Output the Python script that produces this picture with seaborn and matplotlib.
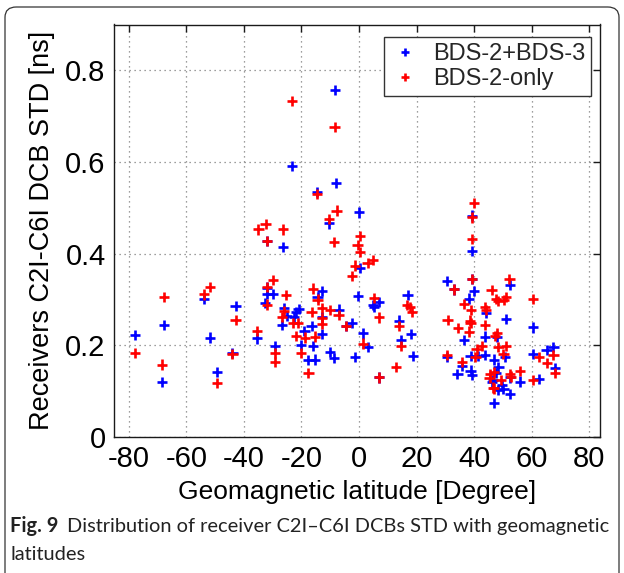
import numpy as np
import pandas as pd
import seaborn as sns
import matplotlib
matplotlib.use("Agg")
import matplotlib.pyplot as plt
from matplotlib.patches import FancyBboxPatch
from matplotlib import font_manager

# ---------------- data ----------------
series_names = ["BDS-2+BDS-3", "BDS-2-only"]

blue_lat = [-77.9, -67.7, -68.6, -53.8, -51.8, -49.5, -42.9, -44.0, -32.1, -26.4,
            -23.3, -10.4, -8.3, -8.0, -14.5, 0.0, -31.9, -31.9, -30.0, -32.6,
            -35.4, -29.2, -26.1, -25.1, -26.7, -22.0, -21.0, -22.5, -19.0, -20.1,
            -17.6, -15.3, -12.9, -14.4, -12.9, -16.5, -12.9, -15.9, -7.1, -4.5,
            -2.4, -10.1, -8.7, -1.4, -0.3, 0.4, 7.0, 4.8, 5.3, 1.4,
            3.0, 7.0, 16.9, 13.9, 18.0, 14.6, 18.7, 39.2, 39.2, 30.7,
            39.2, 33.0, 40.0, 38.3, 36.6, 30.7, 35.7, 34.2, 38.8, 38.8,
            39.2, 41.5, 43.8, 44.1, 43.8, 52.4, 51.1, 48.1, 47.0, 50.8,
            48.5, 46.3, 47.7, 49.7, 48.5, 50.2, 52.5, 47.0, 52.5, 56.0,
            60.4, 60.4, 62.7, 65.2, 67.6, 68.2, 46.5]
blue_std = [0.223, 0.244, 0.120, 0.302, 0.217, 0.142, 0.286, 0.184, 0.427, 0.415,
            0.592, 0.466, 0.757, 0.554, 0.534, 0.490, 0.326, 0.313, 0.312, 0.292,
            0.215, 0.198, 0.281, 0.264, 0.244, 0.273, 0.279, 0.262, 0.232, 0.201,
            0.168, 0.169, 0.319, 0.306, 0.262, 0.242, 0.224, 0.198, 0.278, 0.242,
            0.248, 0.185, 0.172, 0.174, 0.308, 0.369, 0.295, 0.288, 0.284, 0.226,
            0.197, 0.130, 0.310, 0.254, 0.225, 0.212, 0.177, 0.483, 0.406, 0.341,
            0.344, 0.322, 0.319, 0.302, 0.212, 0.174, 0.156, 0.137, 0.177, 0.145,
            0.135, 0.177, 0.179, 0.271, 0.219, 0.331, 0.258, 0.219, 0.169, 0.175,
            0.153, 0.121, 0.139, 0.113, 0.103, 0.104, 0.094, 0.074, 0.130, 0.121,
            0.239, 0.181, 0.127, 0.190, 0.197, 0.150, 0.124]

red_lat = [-77.9, -67.7, -68.6, -53.8, -51.8, -49.5, -42.9, -44.0, -35.0, -32.5,
           -32.1, -26.4, -23.2, -8.5, -14.5, -10.5, -7.8, -8.6, -30.0, -31.9,
           -25.4, -31.9, -35.4, -29.2, -29.2, -26.1, -26.8, -22.8, -21.1, -22.0,
           -18.8, -20.2, -17.6, -16.1, -14.4, -16.5, -12.9, -12.9, -12.9, -15.4,
           -10.1, -7.1, -4.5, 0.4, -0.5, 0.4, 4.8, 3.0, -1.4, -2.5,
           5.2, 7.0, 1.4, 12.9, 7.0, 16.6, 17.7, 18.5, 13.9, 14.6,
           40.0, 39.2, 39.2, 39.2, 33.0, 36.6, 39.0, 30.8, 34.3, 38.6,
           38.8, 38.3, 30.7, 35.9, 40.5, 40.9, 42.8, 43.8, 43.8, 44.1,
           46.1, 47.7, 48.5, 50.4, 51.1, 52.3, 47.3, 47.9, 48.5, 51.1,
           50.2, 45.6, 45.4, 47.0, 49.3, 47.0, 52.5, 52.8, 56.0, 60.4,
           62.7, 60.4, 65.3, 67.6, 68.2, 46.7]
red_std = [0.184, 0.306, 0.158, 0.311, 0.328, 0.118, 0.255, 0.181, 0.453, 0.465,
           0.427, 0.453, 0.733, 0.676, 0.530, 0.475, 0.494, 0.425, 0.342, 0.328,
           0.310, 0.289, 0.232, 0.184, 0.164, 0.275, 0.262, 0.248, 0.249, 0.220,
           0.217, 0.184, 0.140, 0.324, 0.300, 0.273, 0.282, 0.260, 0.246, 0.219,
           0.277, 0.266, 0.242, 0.438, 0.419, 0.404, 0.386, 0.379, 0.374, 0.351,
           0.304, 0.261, 0.204, 0.153, 0.130, 0.288, 0.283, 0.273, 0.242, 0.198,
           0.511, 0.479, 0.432, 0.344, 0.322, 0.290, 0.277, 0.255, 0.238, 0.254,
           0.249, 0.230, 0.179, 0.164, 0.174, 0.191, 0.198, 0.244, 0.284, 0.277,
           0.321, 0.301, 0.297, 0.299, 0.306, 0.344, 0.220, 0.227, 0.197, 0.199,
           0.181, 0.137, 0.128, 0.142, 0.124, 0.106, 0.137, 0.132, 0.144, 0.301,
           0.174, 0.124, 0.161, 0.179, 0.139, 0.108]

x_ticks = [-80, -60, -40, -20, 0, 20, 40, 60, 80]
y_ticks = [0, 0.2, 0.4, 0.6, 0.8]
y_tick_labels = ["0", "0.2", "0.4", "0.6", "0.8"]

x_label = "Geomagnetic latitude [Degree]"
y_label = "Receivers C2I-C6I DCB STD [ns]"
caption_bold = "Fig. 9"
caption_line1 = "Distribution of receiver C2I\u2013C6I DCBs STD with geomagnetic"
caption_line2 = "latitudes"

# ---------------- style ----------------
sns.set_theme(style="white")
plt.rcParams["font.family"] = ["Liberation Sans", "DejaVu Sans"]

W, H = 624, 573
fig = plt.figure(figsize=(W / 100, H / 100), dpi=100)
fig.patch.set_facecolor("white")

ax_l, ax_r, ax_t, ax_b = 114, 600, 24.5, 437
ax = fig.add_axes([ax_l / W, 1 - ax_b / H, (ax_r - ax_l) / W, (ax_b - ax_t) / H])

df = pd.concat([
    pd.DataFrame({"lat": blue_lat, "std": blue_std, "system": series_names[0]}),
    pd.DataFrame({"lat": red_lat, "std": red_std, "system": series_names[1]}),
], ignore_index=True)

sns.scatterplot(data=df, x="lat", y="std", hue="system", hue_order=series_names,
                palette={series_names[0]: "#0000ff", series_names[1]: "#ff0000"},
                marker="+", s=55, linewidth=1.9, ax=ax, zorder=3)

ax.set_xlim(-85.2, 83.8)
ax.set_ylim(0, 0.9)
ax.set_xticks(x_ticks)
ax.set_xticklabels([str(t) for t in x_ticks])
ax.set_yticks(y_ticks)
ax.set_yticklabels(y_tick_labels)

ax.grid(True, linestyle=(0, (1, 3)), color="#7f7f7f", linewidth=0.9)
ax.set_axisbelow(True)
for sp in ax.spines.values():
    sp.set_visible(True)
    sp.set_color("#1a1a1a")
    sp.set_linewidth(1.0)

ax.tick_params(axis="both", which="both", direction="in", length=5, width=1.0,
               top=True, right=True, labelsize=21, colors="#1a1a1a", pad=6)
for lab in ax.get_xticklabels() + ax.get_yticklabels():
    lab.set_color("black")

ax.set_xlabel(x_label, fontsize=19, color="black")
ax.set_ylabel(y_label, fontsize=19.5, color="black")
ax.xaxis.label.set_va("center")
ax.yaxis.label.set_va("center")
ax.xaxis.set_label_coords(0.5, -(492 - ax_b) / (ax_b - ax_t))
ax.yaxis.set_label_coords((42 - ax_l) / (ax_r - ax_l), 0.5)

handles, labels = ax.get_legend_handles_labels()
if ax.get_legend() is not None:
    ax.get_legend().remove()
leg = ax.legend(handles, labels, loc="upper right",
                bbox_to_anchor=((591 - ax_l) / (ax_r - ax_l), (ax_b - 37) / (ax_b - ax_t)),
                borderaxespad=0, fontsize=17, frameon=True, fancybox=False,
                framealpha=1, edgecolor="#333333", handlelength=1.2,
                handletextpad=0.6, borderpad=0.25, labelspacing=0.15,
                markerscale=0.75)
leg.get_frame().set_linewidth(1.0)

# ---------------- caption ----------------
avail = {f.name for f in font_manager.fontManager.ttflist}
cap_font = "Liberation Sans Narrow" if "Liberation Sans Narrow" in avail else "Lato"
cap_size = 15.5 if cap_font == "Liberation Sans Narrow" else 14.4
t1 = fig.text(10 / W, 1 - 532 / H, caption_bold, fontsize=cap_size, fontweight="bold",
              family=[cap_font, "DejaVu Sans"], va="baseline", ha="left", color="#222222")
fig.canvas.draw()
bb = t1.get_window_extent()
fig.text((bb.x1 + 9) / W, 1 - 532 / H, caption_line1, fontsize=cap_size,
         family=[cap_font, "DejaVu Sans"], va="baseline", ha="left", color="#222222")
fig.text(10 / W, 1 - 560 / H, caption_line2, fontsize=cap_size,
         family=[cap_font, "DejaVu Sans"], va="baseline", ha="left", color="#222222")

# rounded border
border = FancyBboxPatch((5 / W, -0.02), (619 - 5) / W, (H - 7) / H + 0.02,
                        boxstyle="round,pad=0,rounding_size=0.018",
                        transform=fig.transFigure, facecolor="none",
                        edgecolor="#333333", linewidth=0.9, clip_on=False)
fig.patches.append(border)

fig.savefig("out.png", dpi=100, facecolor="white")
